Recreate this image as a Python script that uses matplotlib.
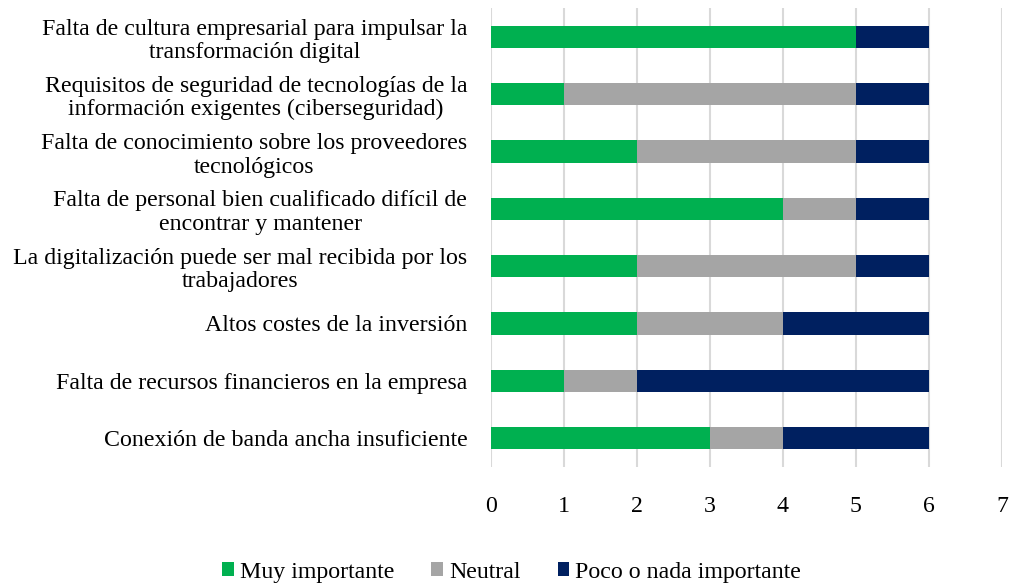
import matplotlib
matplotlib.use("Agg")
import matplotlib.pyplot as plt
import numpy as np

categories = [
    "Falta de cultura empresarial para impulsar la\ntransformación digital",
    "Requisitos de seguridad de tecnologías de la\ninformación exigentes (ciberseguridad)",
    "Falta de conocimiento sobre los proveedores\ntecnológicos",
    "Falta de personal bien cualificado difícil de\nencontrar y mantener",
    "La digitalización puede ser mal recibida por los\ntrabajadores",
    "Altos costes de la inversión",
    "Falta de recursos financieros en la empresa",
    "Conexión de banda ancha insuficiente",
]
muy_importante = [5, 1, 2, 4, 2, 2, 1, 3]
neutral = [0, 4, 3, 1, 3, 2, 1, 1]
poco_importante = [1, 1, 1, 1, 1, 2, 4, 2]
series_names = ["Muy importante", "Neutral", "Poco o nada importante"]
colors = ["#00B050", "#A5A5A5", "#002060"]
xticks = [0, 1, 2, 3, 4, 5, 6, 7]

plt.rcParams['font.family'] = ['Liberation Serif', 'DejaVu Serif']

fig = plt.figure(figsize=(10.09, 5.85), dpi=100)
ax = fig.add_axes([0.4866, 0.2024, 0.5064, 0.7832])

y = np.arange(len(categories))
left = np.zeros(len(categories))
for vals, name, c in zip([muy_importante, neutral, poco_importante], series_names, colors):
    ax.barh(y, vals, left=left, height=0.39, color=c, label=name, zorder=3)
    left += np.array(vals)

ax.set_ylim(len(categories) - 0.5, -0.5)
ax.set_xlim(0, 7)
ax.set_xticks(xticks)
ax.set_xticklabels([str(t) for t in xticks], fontsize=17.2)
ax.set_yticks(y)
ax.set_yticklabels(categories, fontsize=17.2, multialignment='center', linespacing=1.15)
ax.tick_params(axis='y', length=0, pad=17)
ax.tick_params(axis='x', length=0, pad=21)
for s in ax.spines.values():
    s.set_visible(False)
ax.grid(axis='x', color='#D9D9D9', linewidth=1.5, zorder=0)

handles, labels = ax.get_legend_handles_labels()
fig.legend(handles, labels, loc='center', bbox_to_anchor=(0.507, 0.022), ncol=3,
           frameon=False, fontsize=17.2, handlelength=0.5, handleheight=0.5,
           handletextpad=0.25, columnspacing=1.55)

fig.savefig("out.png", dpi=100)
